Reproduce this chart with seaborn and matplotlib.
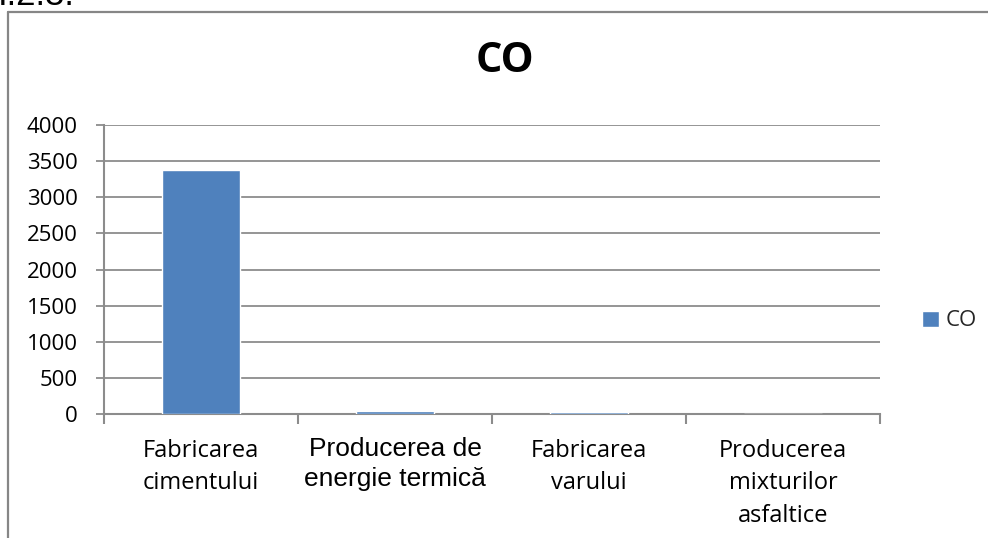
import matplotlib
matplotlib.use("Agg")
import matplotlib.pyplot as plt
from matplotlib.lines import Line2D
from matplotlib.transforms import ScaledTranslation
import seaborn as sns
import pandas as pd

# Emission data (CO) by source activity
categories = [
    "Fabricarea\ncimentului",
    "Producerea de\nenergie termică",
    "Fabricarea\nvarului",
    "Producerea\nmixturilor\nasfaltice",
]
co_values = [3380, 45, 30, 2]
series_name = "CO"
y_ticks = [0, 500, 1000, 1500, 2000, 2500, 3000, 3500, 4000]

sns.set_theme(style="white")
plt.rcParams["font.family"] = ["Open Sans", "DejaVu Sans"]

W, H = 988, 538
fig = plt.figure(figsize=(W / 100, H / 100), dpi=100)
ax = fig.add_axes([104 / W, 1 - 414 / H, 776 / W, 289 / H])

df = pd.DataFrame({"categorie": categories, "valoare": co_values})
bar_color = "#4F81BD"
sns.barplot(data=df, x="categorie", y="valoare", color=bar_color,
            width=0.4, ax=ax, saturation=1, zorder=3)

grid_gray = "#8C8C8C"
ax.set_xlim(-0.5, 3.5)
ax.set_ylim(0, 4000)
ax.set_yticks(y_ticks)
ax.set_yticklabels([str(v) for v in y_ticks], fontsize=16)
ax.yaxis.grid(True, color=grid_gray, linewidth=1.3, zorder=0)
ax.set_axisbelow(True)
ax.set_xlabel("")
ax.set_ylabel("")

for side in ["top", "right"]:
    ax.spines[side].set_visible(False)
for side in ["left", "bottom"]:
    ax.spines[side].set_color(grid_gray)
    ax.spines[side].set_linewidth(1.5)
    ax.spines[side].set_zorder(2.5)

ax.tick_params(axis="y", which="major", length=6, width=1.3, color=grid_gray,
               pad=13, labelcolor="black", left=True)
# category boundaries carry the tick marks, labels sit in the middle
ax.set_xticks([i - 0.5 for i in range(len(categories) + 1)], minor=True)
ax.tick_params(axis="x", which="minor", length=7, width=1.5, color=grid_gray,
               bottom=True)
ax.tick_params(axis="x", which="major", length=0, pad=18, labelsize=17,
               labelcolor="black")
for lbl in ax.get_xticklabels():
    lbl.set_va("top")
    lbl.set_linespacing(1.46)
special = ax.get_xticklabels()[1]
special.set_fontfamily(["Liberation Sans", "DejaVu Sans"])
special.set_fontsize(19)
special.set_linespacing(1.3)
special.set_transform(special.get_transform()
                      + ScaledTranslation(0, 2 / 100, fig.dpi_scale_trans))

# Chart title
fig.text(505 / W, 1 - 62 / H, "CO", fontsize=30, fontweight="bold",
         ha="center", va="center", color="black")

# Legend
ax.legend([ax.patches[0]], [series_name], loc="center left",
          bbox_to_anchor=(922 / W, 1 - 321 / H),
          bbox_transform=fig.transFigure, frameon=False, fontsize=16,
          handlelength=0.75, handleheight=0.75, handletextpad=0.3,
          borderpad=0, borderaxespad=0)

# Outer chart frame (continues past the right and bottom edges)
frame_kw = dict(color="#868686", linewidth=1.6, transform=fig.transFigure)
fig.add_artist(Line2D([8 / W, 8 / W], [1 - 12 / H, -0.05], **frame_kw))
fig.add_artist(Line2D([8 / W, 1.05], [1 - 12 / H, 1 - 12 / H], **frame_kw))

# Section heading above the frame
fig.text(-2 / W, 1 - 5 / H, "I.2.3.", fontsize=25, ha="left", va="baseline",
         family=["Liberation Sans", "DejaVu Sans"], color="black")

fig.savefig("out.png", dpi=100)
